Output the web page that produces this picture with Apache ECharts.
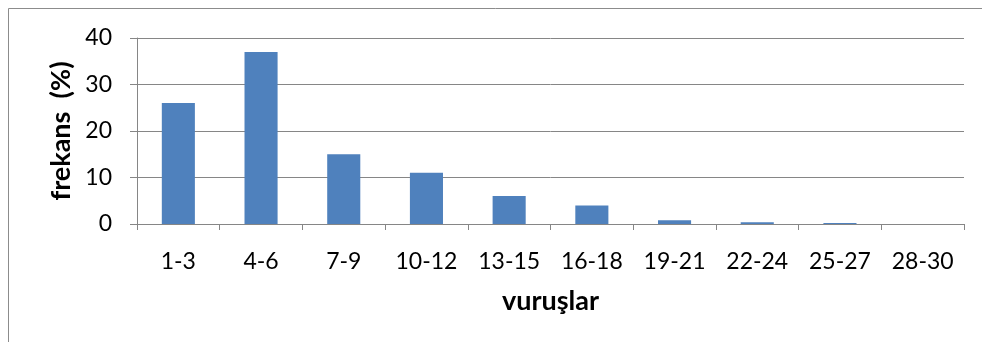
<!DOCTYPE html>
<html lang="tr">
<head>
    <meta charset="UTF-8">
    <title>frekans</title>
    <style>
        html, body { margin: 0; padding: 0; background: #fff; }
        #main { width: 982px; height: 342px; }
    </style>
    <script src="https://cdn.jsdelivr.net/npm/echarts@6/dist/echarts.min.js"></script>
</head>
<body>
    <div id="main"></div>
    <script type="text/javascript">
        // kategoriler ve degerler
        var categories = ['1-3', '4-6', '7-9', '10-12', '13-15', '16-18', '19-21', '22-24', '25-27', '28-30'];
        var values = [26, 37, 15, 11, 6, 4, 0.8, 0.4, 0.2, 0];
        var yTicks = [0, 10, 20, 30, 40];

        var chart = echarts.init(document.getElementById('main'));
        var fontFam = 'Lato, "Open Sans", sans-serif';

        var option = {
            animation: false,
            graphic: [{
                type: 'rect',
                shape: { x: 8.5, y: 8.5, width: 990, height: 360 },
                style: { fill: 'none', stroke: '#8c8c8c', lineWidth: 1 }
            }],
            grid: { left: 137, right: 18, top: 38, bottom: 118 },
            xAxis: {
                type: 'category',
                data: categories,
                name: 'vuruşlar',
                nameLocation: 'middle',
                nameGap: 64,
                nameTextStyle: { fontFamily: fontFam, fontSize: 27, fontWeight: 'bold', color: '#000' },
                axisLine: { lineStyle: { color: '#868686', width: 1 } },
                axisTick: { show: true, length: 6, lineStyle: { color: '#868686' } },
                axisLabel: { fontFamily: fontFam, fontSize: 23, color: '#000', margin: 26 }
            },
            yAxis: {
                type: 'value',
                min: yTicks[0],
                max: yTicks[yTicks.length - 1],
                interval: 10,
                name: 'frekans  (%)',
                nameLocation: 'middle',
                nameGap: 60,
                nameTextStyle: { fontFamily: fontFam, fontSize: 27, fontWeight: 'bold', color: '#000' },
                axisLine: { show: true, lineStyle: { color: '#868686', width: 1 } },
                axisTick: { show: true, length: 7, lineStyle: { color: '#868686' } },
                axisLabel: { fontFamily: fontFam, fontSize: 23, color: '#000', margin: 25 },
                splitLine: { lineStyle: { color: '#868686', width: 1 } }
            },
            series: [{
                type: 'bar',
                data: values,
                barWidth: '40%',
                itemStyle: { color: '#4f81bd' }
            }]
        };

        chart.setOption(option);
    </script>
</body>
</html>
